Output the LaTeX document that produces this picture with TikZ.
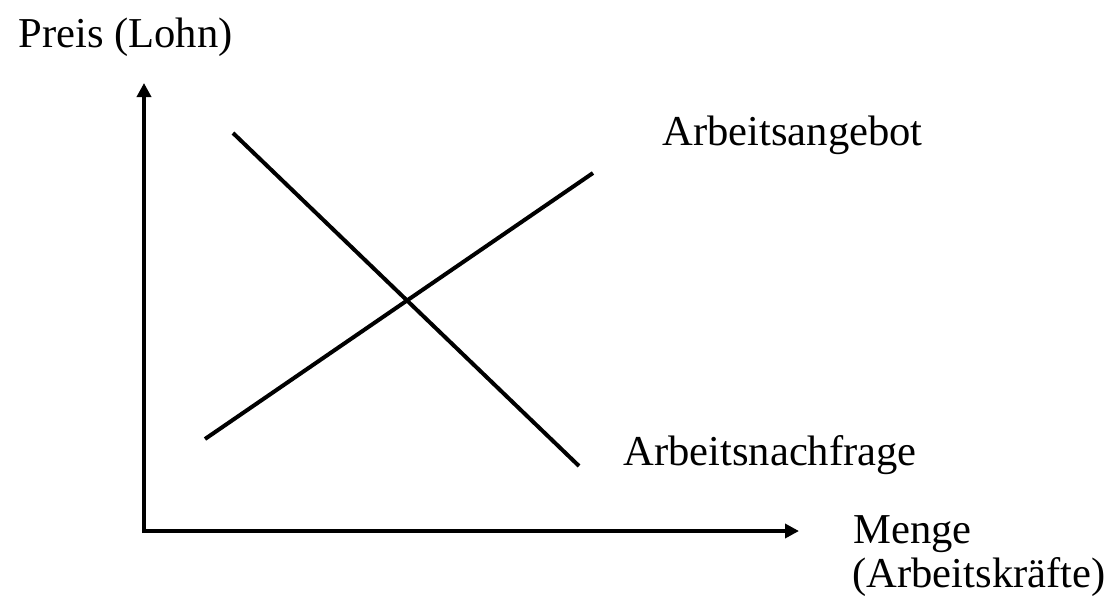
\documentclass[tikz,border=0pt]{standalone}
\usepackage{fontspec}
\setmainfont{Liberation Serif}
\usepackage{tikz}
\usetikzlibrary{arrows.meta,positioning}

\begin{document}
\begin{tikzpicture}[
        x=0.5pt, y=-0.5pt,
        axis/.style={line width=2pt, -{Triangle[length=7pt,width=7pt]}},
        curve/.style={line width=2pt},
        label/.style={anchor=base west, inner sep=0pt, font=\fontsize{21.3}{26}\selectfont}
    ]
        \useasboundingbox (0,0) rectangle (1110,601);

        % axes
        \coordinate (origin) at (144,531);
        \coordinate (ytip) at (144,83);
        \coordinate (xtip) at (799,531);
        \draw[axis] ([yshift=-1pt]origin) -- (ytip);
        \draw[axis] ([xshift=-1pt]origin) -- (xtip);

        \node[label] (ylabel) at (18,47) {Preis (Lohn)};
        \node[label] (xlabel) at (853,543) {Menge};
        \node[label] (xlabel2) at (852,587) {(Arbeitskräfte)};

        % Nachfrage und Angebot
        \coordinate (d1) at (233,133);
        \coordinate (d2) at (579,466);
        \coordinate (s1) at (205,439);
        \coordinate (s2) at (593,173);
        \draw[curve] (d1) -- (d2);
        \draw[curve] (s1) -- (s2);

        \node[label] (supply) at (662,145) {Arbeitsangebot};
        \node[label] (demand) at (623,465) {Arbeitsnachfrage};
    \end{tikzpicture}
\end{document}
